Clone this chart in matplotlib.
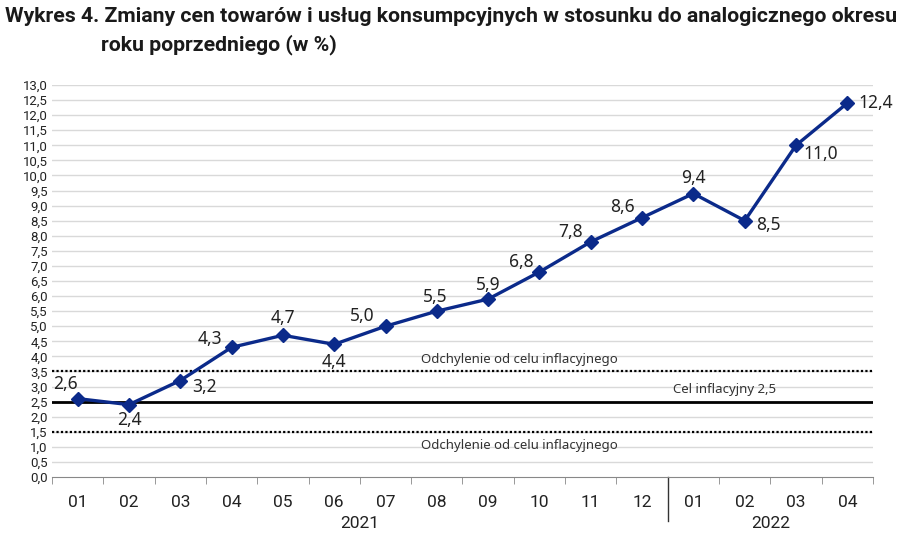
import numpy as np
import matplotlib.pyplot as plt
import matplotlib.transforms as mtransforms

# dane
months = ['01', '02', '03', '04', '05', '06', '07', '08', '09', '10', '11', '12',
          '01', '02', '03', '04']
cpi = [2.6, 2.4, 3.2, 4.3, 4.7, 4.4, 5.0, 5.5, 5.9, 6.8, 7.8, 8.6,
       9.4, 8.5, 11.0, 12.4]
years = ['2021', '2022']
target = 2.5
band_low = 1.5
band_high = 3.5

# przesunięcia etykiet (piksele)
label_offsets = [(-12, 15), (0, -15), (24, -6), (-22, 8), (0, 17), (0, -18),
                 (-23, 10), (-2, 14), (0, 14), (-18, 10), (-20, 10), (-20, 11),
                 (0, 16), (24, -4), (25, -9), (28, 0)]

narrow = ['Liberation Sans Narrow', 'Roboto', 'DejaVu Sans']
regular = ['Noto Sans', 'DejaVu Sans']
navy = '#0b2a8a'

fig = plt.figure(figsize=(9.2, 5.45), dpi=100)
ax = fig.add_axes([52 / 920, 1 - 477 / 545, 821 / 920, 392 / 545])

x = np.arange(len(cpi))

# siatka
for v in np.arange(0.5, 13.01, 0.5):
    ax.axhline(v, color='#d9d9d9', lw=1, zorder=0)

# linie celu
ax.axhline(band_high, color='black', lw=1.6, ls=(0, (1, 1)), zorder=2)
ax.axhline(band_low, color='black', lw=1.6, ls=(0, (1, 1)), zorder=2)
ax.axhline(target, color='black', lw=2, zorder=2)

ax.plot(x, cpi, color=navy, lw=2.4, marker='D', markersize=7, zorder=4)

for xi, v, off in zip(x, cpi, label_offsets):
    ax.annotate(f'{v:.1f}'.replace('.', ','), (xi, v), xytext=off,
                textcoords='offset pixels', ha='center', va='center',
                fontsize=12.5, color='#222222', family=regular)

ax.text(8.6, band_high + 0.4, 'Odchylenie od celu inflacyjnego', ha='center',
        va='center', fontsize=9.5, color='#333333', family=regular)
ax.text(8.6, band_low - 0.45, 'Odchylenie od celu inflacyjnego', ha='center',
        va='center', fontsize=9.5, color='#333333', family=regular)
ax.text(12.6, target + 0.4, 'Cel inflacyjny 2,5', ha='center', va='center',
        fontsize=9.5, color='#333333', family=regular)

ax.set_xlim(-0.5, len(cpi) - 0.5)
ax.set_ylim(0, 13)
ax.set_yticks(np.arange(0, 13.01, 0.5))
ax.set_yticklabels([f'{v:.1f}'.replace('.', ',') for v in np.arange(0, 13.01, 0.5)],
                   family=narrow, fontsize=9.5, color='#222222')
ax.set_xticks(x)
ax.set_xticklabels(months, family=narrow, fontsize=12.5, color='#222222')
ax.set_xticks(np.arange(-0.5, len(cpi), 1), minor=True)
ax.tick_params(axis='x', which='major', length=0, pad=13)
ax.tick_params(axis='x', which='minor', length=5, color='#888888', direction='out')
ax.tick_params(axis='y', length=0, pad=3)

for s in ['top', 'right', 'left']:
    ax.spines[s].set_visible(False)
ax.spines['bottom'].set_color('#888888')

# separator lat i podpisy
trans = mtransforms.blended_transform_factory(ax.transData, ax.transAxes)
ax.plot([11.5, 11.5], [0, -0.112], color='#333333', lw=1, transform=trans, clip_on=False)
ax.text(5.5, -0.118, years[0], transform=trans, ha='center', va='center',
        fontsize=12.5, family=narrow, color='#222222')
ax.text(13.5, -0.118, years[1], transform=trans, ha='center', va='center',
        fontsize=12.5, family=narrow, color='#222222')

fig.text(5 / 920, 1 - 17 / 545, 'Wykres 4. Zmiany cen towarów i usług konsumpcyjnych w stosunku do analogicznego okresu',
         ha='left', va='center', fontsize=15.3, fontweight='bold', family=narrow, color='#1a1a1a')
fig.text(101 / 920, 1 - 45 / 545, 'roku poprzedniego (w %)',
         ha='left', va='center', fontsize=15.3, fontweight='bold', family=narrow, color='#1a1a1a')

fig.savefig('out.png', dpi=100)
